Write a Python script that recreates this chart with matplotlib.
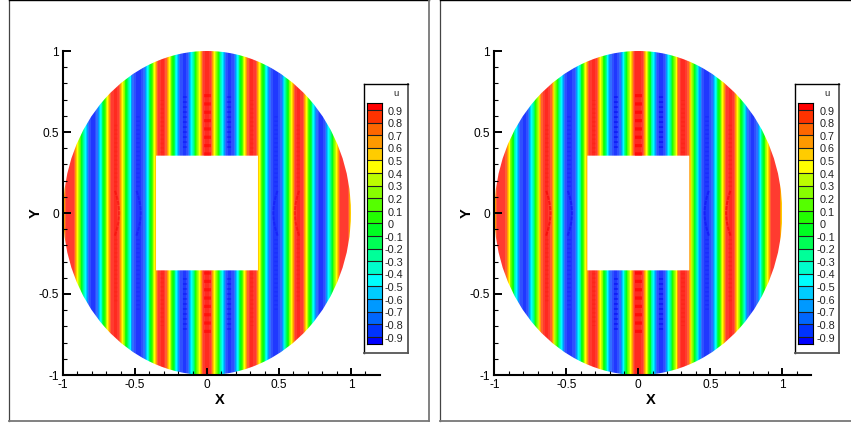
from __future__ import annotations

import matplotlib
matplotlib.use("Agg")
import matplotlib.pyplot as plt
import numpy as np
from matplotlib.lines import Line2D
from matplotlib.path import Path

W, H = 851, 423
plt.rcParams["font.family"] = ["Liberation Sans", "DejaVu Sans"]

# u read across the stripes, half profile from x = 0 to x = 1
x_half = [i / 50 for i in range(51)]
u_left = [
    0.95, 0.88, 0.68, 0.36, 0.00, -0.36, -0.68, -0.88, -0.94, -0.86,
    -0.64, -0.30, 0.06, 0.42, 0.72, 0.90, 0.92, 0.78, 0.56, 0.16,
    -0.20, -0.54, -0.78, -0.92, -0.95, -0.88, -0.68, -0.36, -0.02, 0.36,
    0.68, 0.88, 0.93, 0.84, 0.60, 0.28, -0.10, -0.44, -0.74, -0.90,
    -0.92, -0.80, -0.56, -0.22, 0.14, 0.48, 0.78, 0.88, 0.88, 0.84, 0.50,
]
u_right = [
    0.96, 0.90, 0.70, 0.38, 0.02, -0.36, -0.68, -0.88, -0.94, -0.86,
    -0.64, -0.30, 0.06, 0.42, 0.72, 0.90, 0.93, 0.80, 0.58, 0.18,
    -0.20, -0.54, -0.78, -0.92, -0.95, -0.88, -0.68, -0.36, -0.02, 0.36,
    0.68, 0.88, 0.94, 0.85, 0.62, 0.28, -0.10, -0.44, -0.74, -0.90,
    -0.92, -0.80, -0.56, -0.22, 0.14, 0.50, 0.78, 0.88, 0.88, 0.82, 0.50,
]

levels = [-1.0 + i / 10 for i in range(21)]
tick_levels = [0.9, 0.8, 0.7, 0.6, 0.5, 0.4, 0.3, 0.2, 0.1, 0.0,
               -0.1, -0.2, -0.3, -0.4, -0.5, -0.6, -0.7, -0.8, -0.9]
tick_labels = ["0.9", "0.8", "0.7", "0.6", "0.5", "0.4", "0.3", "0.2", "0.1", "0",
               "-0.1", "-0.2", "-0.3", "-0.4", "-0.5", "-0.6", "-0.7", "-0.8", "-0.9"]
# band colours, lowest band first
band_colors = [
    "#0000ff", "#0033ff", "#0066ff", "#0099ff", "#00ccff",
    "#00ffff", "#00ffcc", "#00ff99", "#00ff55", "#00ff22",
    "#22ff00", "#55ff00", "#88ff00", "#bbff00", "#ffff00",
    "#ffcc00", "#ff9900", "#ff6600", "#ff3300", "#ff0000",
]
# the stripes read softer than the legend, the mesh lines lighten them
field_colors = list(band_colors)
field_colors[0] = "#2038ff"
field_colors[1] = "#3050ff"
field_colors[2] = "#3070ff"
field_colors[17] = "#ff6030"
field_colors[18] = "#ff3b30"
field_colors[19] = "#ff2a20"

hole = 0.354
# moire arcs beside the hole: arc_dx is the outward offset from the arc tip
arc_y = [-0.14, -0.1, -0.06, -0.03, 0.0, 0.03, 0.06, 0.1, 0.14]
arc_dx = [0.03, 0.016, 0.006, 0.002, 0.0, 0.002, 0.006, 0.016, 0.03]
arc_x = [0.61, 0.46]
arc_c = ["#f00000", "#1010f0"]
# moire strips: x centre, y start, y end, colour, width
strip_x = [0.0, 0.155, 0.31, 0.48, 0.635]
strip_y0 = [0.36, 0.4, 0.37, 0.16, 0.16]
strip_y1 = [0.74, 0.74, 0.7, 0.6, 0.56]
strip_c = ["#ff0000", "#0000ee", "#f01000", "#0000ee", "#f01000"]
strip_w = [5.0, 3.0, 2.6, 2.6, 2.6]


def box(x0, y0, x1, y1):
    return [x0 / W, 1 - y1 / H, (x1 - x0) / W, (y1 - y0) / H]


def frame(x0, right):
    fig.add_artist(Line2D([x0 / W, x0 / W], [1 - 421 / H, 1], color="#444444", lw=0.9))
    fig.add_artist(Line2D([x0 / W, min(right, W) / W], [1 - 420.5 / H] * 2, color="#777777", lw=1.3))
    fig.add_artist(Line2D([x0 / W, min(right, W) / W], [1 - 0.5 / H] * 2, color="black", lw=1.0))
    if right < W:
        fig.add_artist(Line2D([right / W, right / W], [1 - 421 / H, 1], color="#777777", lw=1.3))


def draw_panel(dx, u_half, strength):
    ax = fig.add_axes(box(63 + dx, 51, 379.8 + dx, 375))
    ax.set_xlim(-1, 1.2)
    ax.set_ylim(-1, 1)

    x = np.array([-v for v in x_half[:0:-1]] + x_half)
    u = np.array(u_half[:0:-1] + u_half)
    cs = ax.contourf(x, [-1, 1], np.vstack([u, u]), levels=levels, colors=field_colors, antialiased=False)

    verts = [(-hole, -hole), (-hole, hole), (hole, hole), (hole, -hole), (-hole, -hole)]
    clip = Path.make_compound_path(Path.circle((0, 0), 1.0), Path(verts, closed=True))
    cs.set_clip_path(clip, ax.transData)

    # moire texture on the stripes
    for sx, y0, y1, c, w in zip(strip_x, strip_y0, strip_y1, strip_c, strip_w):
        for sign in (-1, 1):
            for sy in (-1, 1):
                alpha = 0.45 * strength if sx < 0.2 else 0.18 * strength
                ax.plot([sign * sx] * 2, [sy * y0, sy * y1], color=c, lw=w,
                        ls=(0, (0.45, 0.75)), alpha=alpha)
    for cx, c in zip(arc_x, arc_c):
        for sign in (-1, 1):
            ax.plot([sign * (cx + d) for d in arc_dx], arc_y, color=c, lw=1.5,
                    ls=(0, (2.0, 0.5)), alpha=0.6 * strength)

    for side in ("top", "right"):
        ax.spines[side].set_visible(False)
    for side in ("left", "bottom"):
        ax.spines[side].set_linewidth(1.5)
    ax.set_xticks([-1, -0.5, 0, 0.5, 1], ["-1", "-0.5", "0", "0.5", "1"])
    ax.set_yticks([-1, -0.5, 0, 0.5, 1], ["-1", "-0.5", "0", "0.5", "1"])
    ax.set_xticks([i / 10 for i in range(-9, 12) if i % 5], minor=True)
    ax.set_yticks([i / 10 for i in range(-9, 10) if i % 5], minor=True)
    ax.tick_params(which="major", direction="in", length=5.4, width=1.4, labelsize=8.6, pad=3)
    ax.tick_params(which="minor", direction="in", length=3.2, width=0.8)
    ax.set_xlabel("X", fontsize=10.5, fontweight="bold", labelpad=1, x=0.495)
    ax.set_ylabel("Y", fontsize=10.5, fontweight="bold", labelpad=-3)
    ax.patch.set_alpha(0)

    # contour legend
    leg = fig.add_axes(box(363.5 + dx, 84.5, 408 + dx, 353))
    leg.set_xlim(0, 1)
    leg.set_ylim(0, 1)
    leg.set_xticks([])
    leg.set_yticks([])
    for s in leg.spines.values():
        s.set_linewidth(1.0)
    for s in ("right", "bottom"):
        leg.spines[s].set_color("#555555")
        leg.spines[s].set_linewidth(1.3)
    leg.text(0.73, 0.965, "u", ha="center", va="center", fontsize=6.8, color="#222222")

    sw = fig.add_axes(box(367 + dx, 103.3, 381.6 + dx, 344))
    sw.set_xlim(0, 1)
    sw.set_ylim(-0.958, 0.953)
    sw.set_xticks([])
    sw.set_yticks([])
    for s in sw.spines.values():
        s.set_linewidth(0.8)
    sw.bar([0.5] * 20, [0.1] * 20, bottom=levels[:-1], width=1, color=band_colors,
           edgecolor="none", linewidth=0)
    sw.hlines(tick_levels, 0, 1, color="#202020", lw=0.8)
    for lev, lab in zip(tick_levels, tick_labels):
        px = 385 if lab.startswith("-") else 388
        fig.text((px + dx) / W, 1 - (110 + (0.9 - lev) * 126 + 1.7) / H, lab, fontsize=7.8,
                 ha="left", va="center", color="#222222")


fig = plt.figure(figsize=(W / 100, H / 100), dpi=100)
frame(8.5, 428.5)
frame(440, 900)
draw_panel(0, u_left, 0.75)
draw_panel(431.3, u_right, 1.0)
fig.savefig("out.png", dpi=100)
plt.close(fig)
